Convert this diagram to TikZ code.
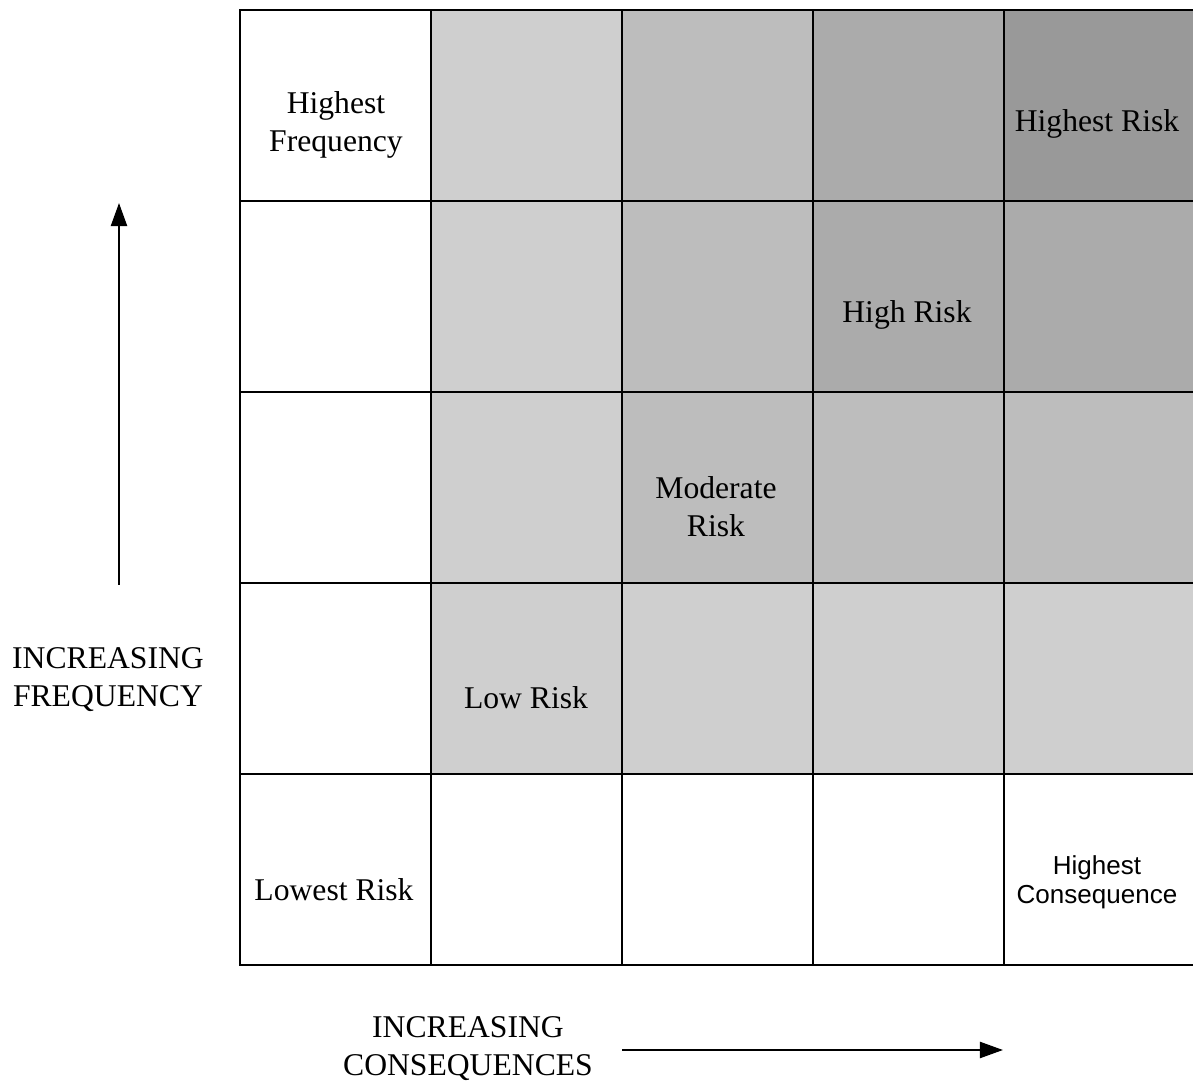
\documentclass[tikz,border=0pt]{standalone}
\usepackage{fontspec}
\setmainfont{Liberation Serif}
\newfontfamily\consfont{Liberation Sans}
\usetikzlibrary{positioning,arrows.meta}

\begin{document}
\begin{tikzpicture}[
        x=0.01cm, y=-0.01cm,
        cell/.style={rectangle, draw=black, line width=0.8pt, minimum size=1.91cm, inner sep=0pt},
        lv0/.style={fill=white},
        lv1/.style={fill=black!19},
        lv2/.style={fill=black!26},
        lv3/.style={fill=black!33},
        lv4/.style={fill=black!40},
        lbl/.style={align=center, inner sep=1pt, font=\fontsize{9}{10.8}\selectfont},
        axis/.style={draw=black, line width=0.6pt, -{Triangle[length=0.23cm,width=0.16cm]}}
    ]
        \useasboundingbox (0,0) rectangle (1193,1088);

        % risk matrix, rows from top, shade level per column
        \foreach \r/\a/\b/\c/\d/\e in {0/0/1/2/3/4, 1/0/1/2/3/3, 2/0/1/2/2/2, 3/0/1/1/1/1, 4/0/0/0/0/0}
            \foreach \col/\lv in {0/\a, 1/\b, 2/\c, 3/\d, 4/\e}
                \node [cell, lv\lv] (c-\r-\col) at ({335.5+191*\col}, {105.5+191*\r}) {};

        % cell labels
        \node [lbl] (hifreq) at (336,125) {Highest\\Frequency};
        \node [lbl] (hirisk) at (1097,124) {Highest Risk};
        \node [lbl] (high) at (907,315) {High Risk};
        \node [lbl] (moder) at (716,507) {Moderate\\Risk};
        \node [lbl] (low) at (526,698) {Low Risk};
        \node [lbl] (lowest) at (334,890) {Lowest Risk};
        \node [lbl, font=\consfont\fontsize{7.4}{8.2}\selectfont] (hicons) at (1097,882) {Highest\\Consequence};

        % axes
        \node [lbl] (freq) at (108,680) {INCREASING\\FREQUENCY};
        \node [lbl] (cons) at (468,1049) {INCREASING\\CONSEQUENCES};
        \coordinate (fbot) at (119,585);
        \coordinate (ftop) at (119,203);
        \coordinate (cleft) at (622,1050);
        \coordinate (cright) at (1003,1050);
        \draw [axis] (fbot) -- (ftop);
        \draw [axis] (cleft) -- (cright);
    \end{tikzpicture}
\end{document}
